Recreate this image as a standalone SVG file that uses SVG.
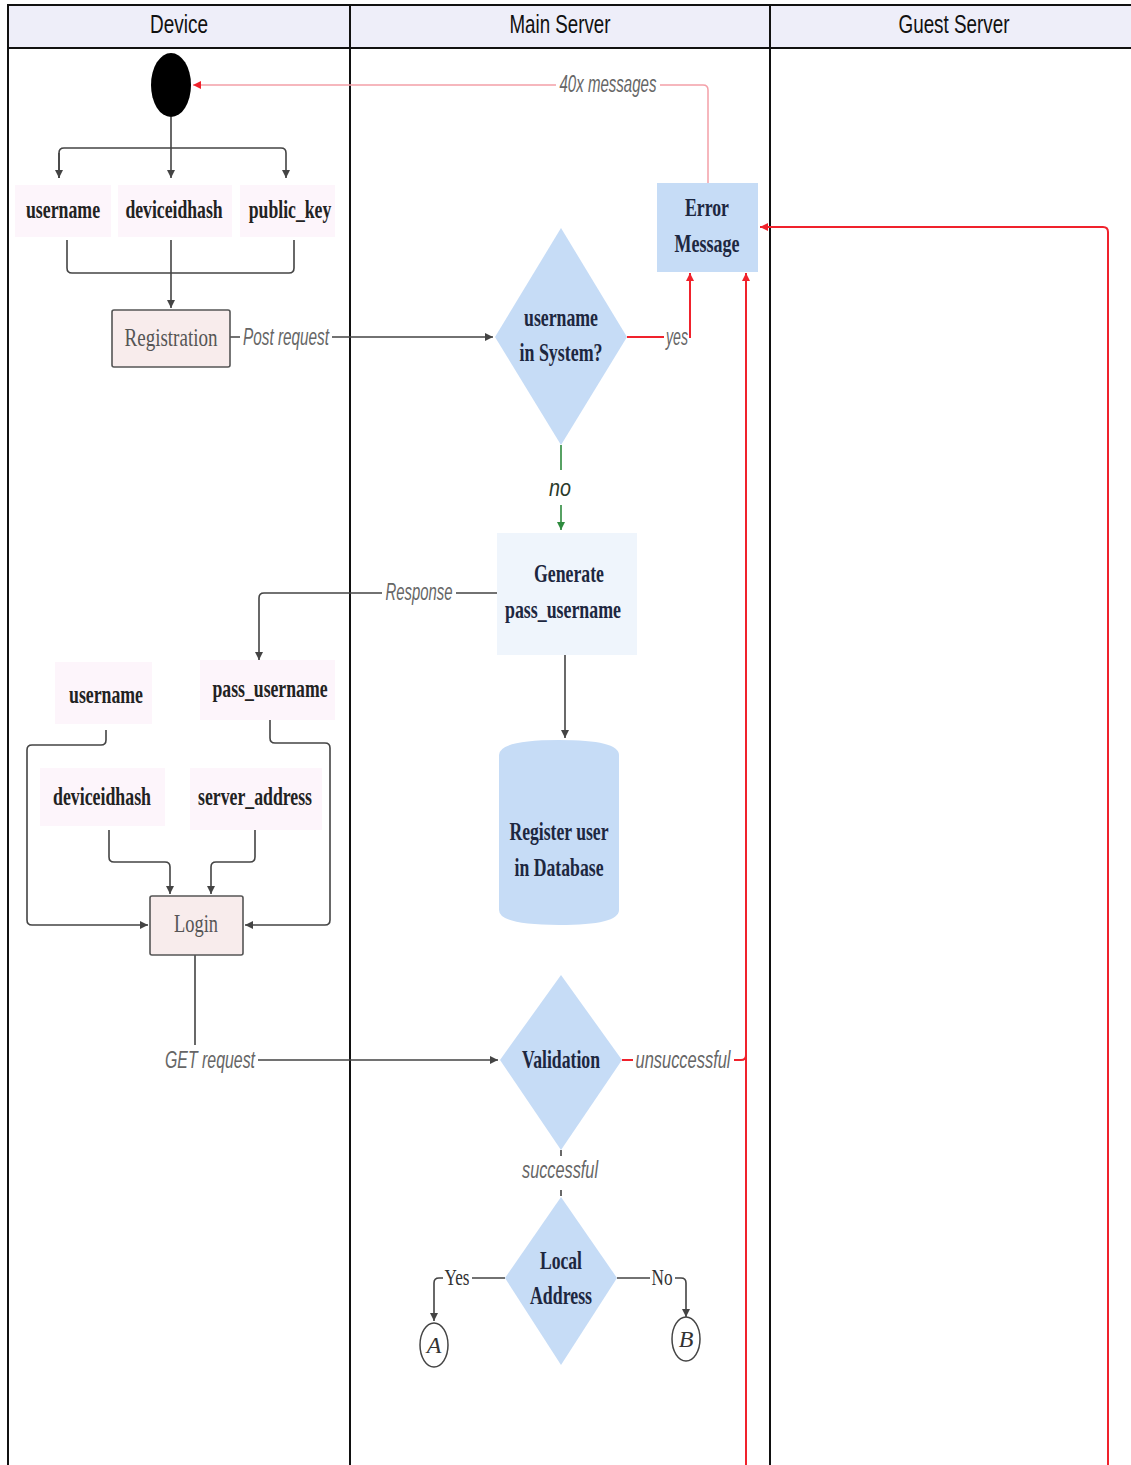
<svg xmlns="http://www.w3.org/2000/svg" width="1131" height="1465" viewBox="0 0 1131 1465">
<style>
.hdr{font-family:"Liberation Sans",Arial,sans-serif;font-size:25px;fill:#111;text-anchor:middle}
.nt{font-family:"Liberation Serif","Times New Roman",serif;font-size:26px;font-weight:bold;fill:#1d2740;text-anchor:middle}
.pt{font-family:"Liberation Serif","Times New Roman",serif;font-size:26px;font-weight:bold;fill:#222;text-anchor:middle}
.gt{font-family:"Liberation Serif","Times New Roman",serif;font-size:26px;fill:#555;text-anchor:middle}
.lb{font-family:"Liberation Sans",Arial,sans-serif;font-size:23px;font-style:italic;fill:#666;text-anchor:middle}
.lbd{font-family:"Liberation Serif","Times New Roman",serif;font-size:24px;fill:#333;text-anchor:middle}
.dk{fill:none;stroke:#444;stroke-width:1.6}
.rd{fill:none;stroke:#f0222c;stroke-width:2}
.rl{fill:none;stroke:#f4a0a8;stroke-width:1.5}
.gr{fill:none;stroke:#2e8b3e;stroke-width:1.6}
.pk{fill:#fdf5fb}
.bl{fill:#c6dcf6}
.bx{fill:#f8ecec;stroke:#555;stroke-width:1.6}
.lane{fill:none;stroke:#111;stroke-width:2}
</style>
<defs>
<marker id="ad" markerWidth="10" markerHeight="10" refX="8" refY="5" orient="auto" markerUnits="userSpaceOnUse"><path d="M0,1 L8,5 L0,9 z" fill="#444"/></marker>
<marker id="ar" markerWidth="10" markerHeight="10" refX="8" refY="5" orient="auto" markerUnits="userSpaceOnUse"><path d="M0,1 L8,5 L0,9 z" fill="#f0222c"/></marker>
<marker id="ag" markerWidth="10" markerHeight="10" refX="8" refY="5" orient="auto" markerUnits="userSpaceOnUse"><path d="M0,1 L8,5 L0,9 z" fill="#2e8b3e"/></marker>
</defs>
<rect width="1131" height="1465" fill="#fff"/>
<g id="lanes">
<rect x="8" y="5" width="1123" height="43" fill="#eeeef9"/>
<path class="lane" d="M8,1465 V5 H1131 M8,48 H1131 M350,5 V1465 M770,5 V1465"/>
<text class="hdr" x="179" y="33" textLength="58" lengthAdjust="spacingAndGlyphs">Device</text>
<text class="hdr" x="560" y="33" textLength="101" lengthAdjust="spacingAndGlyphs">Main Server</text>
<text class="hdr" x="954" y="33" textLength="111" lengthAdjust="spacingAndGlyphs">Guest Server</text>
</g>
<g id="connectors">
<path class="dk" d="M171,117 V148 M59,178 V153 Q59,148 64,148 H281 Q286,148 286,153 V178" marker-end="url(#ad)"/>
<path class="dk" d="M171,148 V178" marker-end="url(#ad)"/>
<path class="dk" d="M59,153 V178" marker-end="url(#ad)"/>
<path class="dk" d="M67,240 V268 Q67,273 72,273 H289 Q294,273 294,268 V240"/>
<path class="dk" d="M171,240 V308" marker-end="url(#ad)"/>
<path class="dk" d="M230,337 H240 M332,337 H493" marker-end="url(#ad)"/>
<path class="rd" d="M627,337 H664"/>
<path class="rd" d="M689,337 H690 V273" marker-end="url(#ar)"/>
<path class="rl" d="M708,183 V90 Q708,85 703,85 H660 M556,85 H193" marker-end="url(#ar)"/>
<path class="rd" d="M1108,1465 V232 Q1108,227 1103,227 H760" marker-end="url(#ar)"/>
<path class="rd" d="M746,1465 V273" marker-end="url(#ar)" stroke-width="1.5"/>
<path class="gr" d="M561,445 V470 M561,505 V530" marker-end="url(#ag)"/>
<path class="dk" d="M565,655 V738" marker-end="url(#ad)"/>
<path class="dk" d="M497,593 H456 M382,593 H264 Q259,593 259,598 V660" marker-end="url(#ad)"/>
<path class="dk" d="M106,730 V740 Q106,745 101,745 H32 Q27,745 27,750 V920 Q27,925 32,925 H148" marker-end="url(#ad)"/>
<path class="dk" d="M270,720 V738 Q270,743 275,743 H325 Q330,743 330,748 V920 Q330,925 325,925 H245" marker-end="url(#ad)"/>
<path class="dk" d="M109,830 V857 Q109,862 114,862 H165 Q170,862 170,867 V894" marker-end="url(#ad)"/>
<path class="dk" d="M255,830 V857 Q255,862 250,862 H216 Q211,862 211,867 V894" marker-end="url(#ad)"/>
<path class="dk" d="M195,955 V1045 M258,1060 H498" marker-end="url(#ad)"/>
<path class="rd" d="M622,1060 H633 M734,1060 H741 Q746,1060 746,1055 V1050"/>
<path class="dk" d="M561,1150 V1156 M561,1190 V1196" stroke-width="1"/>
<path class="dk" d="M505,1278 H472 M443,1278 H439 Q434,1278 434,1283 V1321" marker-end="url(#ad)"/>
<path class="dk" d="M617,1278 H650 M675,1278 H681 Q686,1278 686,1283 V1317" marker-end="url(#ad)"/>
<text class="lb" x="286" y="345" textLength="86" lengthAdjust="spacingAndGlyphs">Post request</text>
<text class="lb" x="677" y="345" textLength="22" lengthAdjust="spacingAndGlyphs">yes</text>
<text class="lb" x="608" y="92" textLength="97" lengthAdjust="spacingAndGlyphs">40x messages</text>
<text class="lb" x="560" y="496" textLength="22" lengthAdjust="spacingAndGlyphs" style="fill:#2a3a2a">no</text>
<text class="lb" x="419" y="600" textLength="67" lengthAdjust="spacingAndGlyphs">Response</text>
<text class="lb" x="210" y="1068" textLength="90" lengthAdjust="spacingAndGlyphs">GET request</text>
<text class="lb" x="683" y="1068" textLength="95" lengthAdjust="spacingAndGlyphs">unsuccessful</text>
<text class="lb" x="560" y="1178" textLength="76" lengthAdjust="spacingAndGlyphs">successful</text>
<text class="lbd" x="457" y="1285" textLength="25" lengthAdjust="spacingAndGlyphs">Yes</text>
<text class="lbd" x="662" y="1285" textLength="21" lengthAdjust="spacingAndGlyphs">No</text>
</g>
<g id="start"><ellipse cx="171" cy="85" rx="20" ry="32" fill="#000"/></g>
<g id="in_username"><rect class="pk" x="15" y="185" width="96" height="52"/><text class="pt" transform="translate(63,218) scale(0.685,1)" x="0" y="0">username</text></g>
<g id="in_deviceidhash"><rect class="pk" x="118" y="185" width="114" height="52"/><text class="pt" transform="translate(174,218) scale(0.68,1)" x="0" y="0">deviceidhash</text></g>
<g id="in_public_key"><rect class="pk" x="240" y="185" width="95" height="52"/><text class="pt" transform="translate(290,218) scale(0.68,1)" x="0" y="0">public_key</text></g>
<g id="registration"><rect class="bx" x="112" y="310" width="118" height="57" rx="2"/><text class="gt" x="171" y="346" textLength="93" lengthAdjust="spacingAndGlyphs">Registration</text></g>
<g id="username_check"><polygon class="bl" points="561,228 627,337 561,445 495,337"/><text class="nt" x="561" y="326" textLength="74" lengthAdjust="spacingAndGlyphs">username</text><text class="nt" x="561" y="361" textLength="83" lengthAdjust="spacingAndGlyphs">in System?</text></g>
<g id="error_message"><rect class="bl" x="657" y="183" width="101" height="89"/><text class="nt" x="707" y="216" textLength="44" lengthAdjust="spacingAndGlyphs">Error</text><text class="nt" x="707" y="252" textLength="65" lengthAdjust="spacingAndGlyphs">Message</text></g>
<g id="generate"><rect x="497" y="533" width="140" height="122" fill="#eff5fc"/><text class="nt" x="569" y="582" textLength="70" lengthAdjust="spacingAndGlyphs">Generate</text><text class="nt" x="563" y="618" textLength="116" lengthAdjust="spacingAndGlyphs">pass_username</text></g>
<g id="database"><path class="bl" d="M499,755 Q499,740 559,740 Q619,740 619,755 V910 Q619,925 559,925 Q499,925 499,910 Z"/><text class="nt" x="559" y="840" textLength="99" lengthAdjust="spacingAndGlyphs">Register user</text><text class="nt" x="559" y="876" textLength="89" lengthAdjust="spacingAndGlyphs">in Database</text></g>
<g id="l_username"><rect class="pk" x="55" y="662" width="97" height="62"/><text class="pt" x="106" y="703" textLength="74" lengthAdjust="spacingAndGlyphs">username</text></g>
<g id="l_pass_username"><rect class="pk" x="200" y="660" width="135" height="60"/><text class="pt" x="270" y="697" textLength="115" lengthAdjust="spacingAndGlyphs">pass_username</text></g>
<g id="l_deviceidhash"><rect class="pk" x="40" y="768" width="125" height="58"/><text class="pt" x="102" y="805" textLength="98" lengthAdjust="spacingAndGlyphs">deviceidhash</text></g>
<g id="l_server_address"><rect class="pk" x="190" y="768" width="132" height="62"/><text class="pt" x="255" y="805" textLength="114" lengthAdjust="spacingAndGlyphs">server_address</text></g>
<g id="login"><rect class="bx" x="150" y="896" width="93" height="59" rx="2"/><text class="gt" x="196" y="932" textLength="44" lengthAdjust="spacingAndGlyphs">Login</text></g>
<g id="validation"><polygon class="bl" points="561,975 622,1060 561,1150 500,1060"/><text class="nt" x="561" y="1068" textLength="78" lengthAdjust="spacingAndGlyphs">Validation</text></g>
<g id="local_address"><polygon class="bl" points="561,1197 617,1278 561,1365 505,1278"/><text class="nt" x="561" y="1269" textLength="42" lengthAdjust="spacingAndGlyphs">Local</text><text class="nt" x="561" y="1304" textLength="62" lengthAdjust="spacingAndGlyphs">Address</text></g>
<g id="conn_A"><ellipse cx="434" cy="1345" rx="14" ry="22" fill="#fff" stroke="#444" stroke-width="1.5"/><text class="lbd" x="434" y="1353" font-style="italic">A</text></g>
<g id="conn_B"><ellipse cx="686" cy="1339" rx="14" ry="22" fill="#fff" stroke="#444" stroke-width="1.5"/><text class="lbd" x="686" y="1347" font-style="italic">B</text></g>
</svg>
